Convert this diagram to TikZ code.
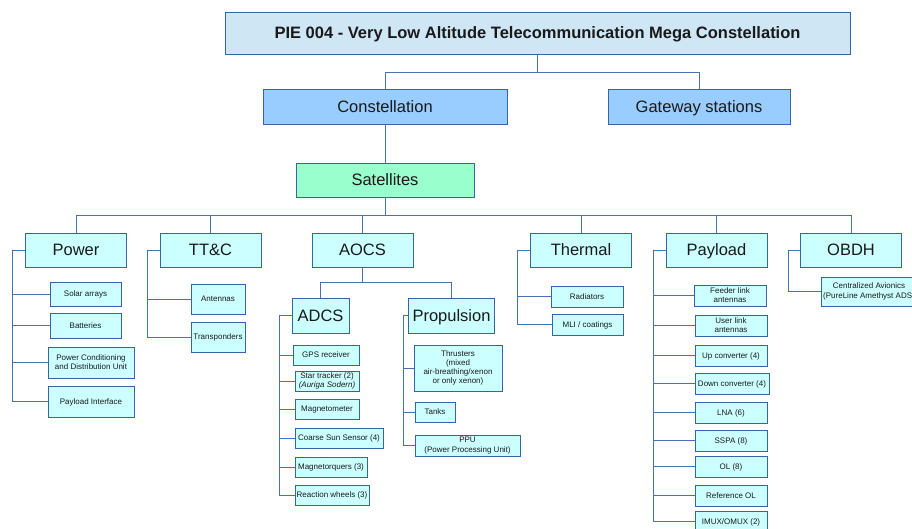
\documentclass[tikz,border=0pt]{standalone}
\usepackage{fontspec}
\setmainfont{Liberation Sans}
\definecolor{bordc}{RGB}{52,101,164}
\definecolor{connc}{RGB}{72,112,178}
\definecolor{titlec}{RGB}{207,231,245}
\definecolor{lvltwoc}{RGB}{153,204,255}
\definecolor{satc}{RGB}{153,255,204}
\definecolor{cyanc}{RGB}{204,255,255}
\tikzset{
  box/.style={draw=bordc, line width=0.9pt, inner sep=0pt, align=center, text=black!90},
  capsbig/.style={text height=11.8pt, text depth=0pt},
  titlebox/.style={box, fill=titlec, font=\bfseries\fontsize{16.5}{19}\selectfont, capsbig},
  lvltwo/.style={box, fill=lvltwoc, font=\fontsize{16.5}{19}\selectfont, minimum height=35, capsbig},
  satbox/.style={box, fill=satc, font=\fontsize{16.5}{19}\selectfont, minimum height=34, capsbig},
  lvlthree/.style={box, fill=cyanc, font=\fontsize{16.5}{19}\selectfont, minimum width=101, minimum height=34, capsbig},
  leaf/.style={box, fill=cyanc, font=\fontsize{8}{9.2}\selectfont},
  leafone/.style={leaf, text height=5.8pt, text depth=0pt},
  conn/.style={draw=connc, line width=0.9pt}
}
\begin{document}
\begin{tikzpicture}[x=1pt,y=-1pt]
\useasboundingbox (0,0) rectangle (912,529);
\clip (0,0) rectangle (912,529);
\fill[white] (0,0) rectangle (912,529);

% top levels
\node[titlebox, minimum width=625, minimum height=42] (title) at (537.5,33) {PIE 004 - Very Low Altitude Telecommunication Mega Constellation};
\node[lvltwo, minimum width=244] (const) at (385,106.5) {Constellation};
\node[lvltwo, minimum width=182] (gate) at (699,106.5) {Gateway stations};
\node[satbox, minimum width=178] (sat) at (385,180) {Satellites};

% subsystems
\node[lvlthree] (power) at (76,250) {Power};
\node[lvlthree] (ttc) at (210.5,250) {TT\&C};
\node[lvlthree] (aocs) at (362.5,250) {AOCS};
\node[lvlthree] (therm) at (581,250) {Thermal};
\node[lvlthree] (payl) at (716.5,250) {Payload};
\node[lvlthree] (obdh) at (851,250) {OBDH};

% Power children
\node[leafone, minimum width=71, minimum height=24] (sa) at (85.5,294) {Solar arrays};
\node[leafone, minimum width=71, minimum height=25] (bat) at (85.5,325.5) {Batteries};
\node[leaf, minimum width=86, minimum height=31] (pcdu) at (91,362.5) {Power Conditioning\\and Distribution Unit};
\node[leafone, minimum width=86, minimum height=31] (pif) at (91,401.5) {Payload Interface};

% TT&C children
\node[leafone, minimum width=54, minimum height=30] (ant) at (218,299) {Antennas};
\node[leafone, minimum width=54, minimum height=30] (trp) at (218,337) {Transponders};

% AOCS
\node[lvlthree, minimum width=57, minimum height=35] (adcs) at (320.5,315.5) {ADCS};
\node[lvlthree, minimum width=86, minimum height=35] (prop) at (451.5,315.5) {Propulsion};

\node[leafone, minimum width=66, minimum height=20] (gps) at (326,355) {GPS receiver};
\node[leaf, minimum width=64, minimum height=20] (star) at (327,381) {Star tracker (2)\\\textit{(Auriga Sodern)}};
\node[leafone, minimum width=64, minimum height=20] (mag) at (327,409) {Magnetometer};
\node[leafone, minimum width=88, minimum height=20] (css) at (339,438) {Coarse Sun Sensor (4)};
\node[leafone, minimum width=72, minimum height=20] (mtq) at (331,467) {Magnetorquers (3)};
\node[leafone, minimum width=74, minimum height=20] (rw) at (332,495) {Reaction wheels (3)};

\node[leaf, minimum width=88, minimum height=46] (thr) at (458,368) {Thrusters\\(mixed\\air-breathing/xenon\\or only xenon)};
\node[leafone, minimum width=40, minimum height=20] (tank) at (435,412) {Tanks};
\node[leaf, minimum width=105, minimum height=21] (ppu) at (467.5,445.5) {PPU\\(Power Processing Unit)};

% Thermal children
\node[leafone, minimum width=72, minimum height=21] (rad) at (587,296.5) {Radiators};
\node[leafone, minimum width=71, minimum height=21] (mli) at (587.5,324.5) {MLI / coatings};

% Payload children
\node[leaf, minimum width=72, minimum height=21] (feed) at (730,295.5) {Feeder link\\antennas};
\node[leaf, minimum width=72, minimum height=21] (user) at (731,325.5) {User link\\antennas};
\node[leafone, minimum width=72, minimum height=21] (upc) at (731,355.5) {Up converter (4)};
\node[leafone, minimum width=74, minimum height=21] (dnc) at (732,383.5) {Down converter (4)};
\node[leafone, minimum width=72, minimum height=21] (lna) at (731,412.5) {LNA (6)};
\node[leafone, minimum width=72, minimum height=21] (sspa) at (731,440.5) {SSPA (8)};
\node[leafone, minimum width=72, minimum height=21] (ol) at (731,466.5) {OL (8)};
\node[leafone, minimum width=72, minimum height=21] (rol) at (731,495.5) {Reference OL};
\node[leafone, minimum width=72, minimum height=21] (imux) at (731,521.5) {IMUX/OMUX (2)};

% OBDH children
\node[leaf, minimum width=96, minimum height=29] (avio) at (869,291.5) {Centralized Avionics\\(PureLine Amethyst ADS)};

% connectors top
\draw[conn] (title.south) -- ++(0,18) coordinate (tj);
\draw[conn] (const.north) |- (tj) -| (gate.north);
\draw[conn] (const.south) -- (sat.north);
\draw[conn] (sat.south) -- ++(0,18) coordinate (bus);
\draw[conn] (power.north) |- (bus) -| (obdh.north);
\draw[conn] (ttc.north) -- (ttc.north |- bus);
\draw[conn] (aocs.north) -- (aocs.north |- bus);
\draw[conn] (therm.north) -- (therm.north |- bus);
\draw[conn] (payl.north) -- (payl.north |- bus);

% Power tree
\coordinate (ptr) at (12,250);
\draw[conn] (power.west) -- (ptr) |- (pif.west);
\foreach \n in {sa,bat,pcdu} \draw[conn] (ptr) |- (\n.west);

% TT&C tree
\coordinate (ttr) at (147,250);
\draw[conn] (ttc.west) -- (ttr) |- (trp.west);
\draw[conn] (ttr) |- (ant.west);

% AOCS split
\draw[conn] (aocs.south) -- ++(0,15) coordinate (aj);
\draw[conn] (adcs.north) |- (aj) -| (prop.north);

% ADCS tree
\coordinate (atr) at (279,315.5);
\draw[conn] (adcs.west) -- (atr) |- (rw.west);
\foreach \n in {gps,star,mag,css,mtq} \draw[conn] (atr) |- (\n.west);

% Propulsion tree
\coordinate (prt) at (403,315.5);
\draw[conn] (prop.west) -- (prt) |- (ppu.west);
\foreach \n in {thr,tank} \draw[conn] (prt) |- (\n.west);

% Thermal tree
\coordinate (thtr) at (517,250);
\draw[conn] (therm.west) -- (thtr) |- (mli.west);
\draw[conn] (thtr) |- (rad.west);

% Payload tree
\coordinate (pytr) at (653,250);
\draw[conn] (payl.west) -- (pytr) |- (imux.west);
\foreach \n in {feed,user,upc,dnc,lna,sspa,ol,rol} \draw[conn] (pytr) |- (\n.west);

% OBDH tree
\coordinate (obtr) at (788,250);
\draw[conn] (obdh.west) -- (obtr) |- (avio.west);
\end{tikzpicture}
\end{document}
